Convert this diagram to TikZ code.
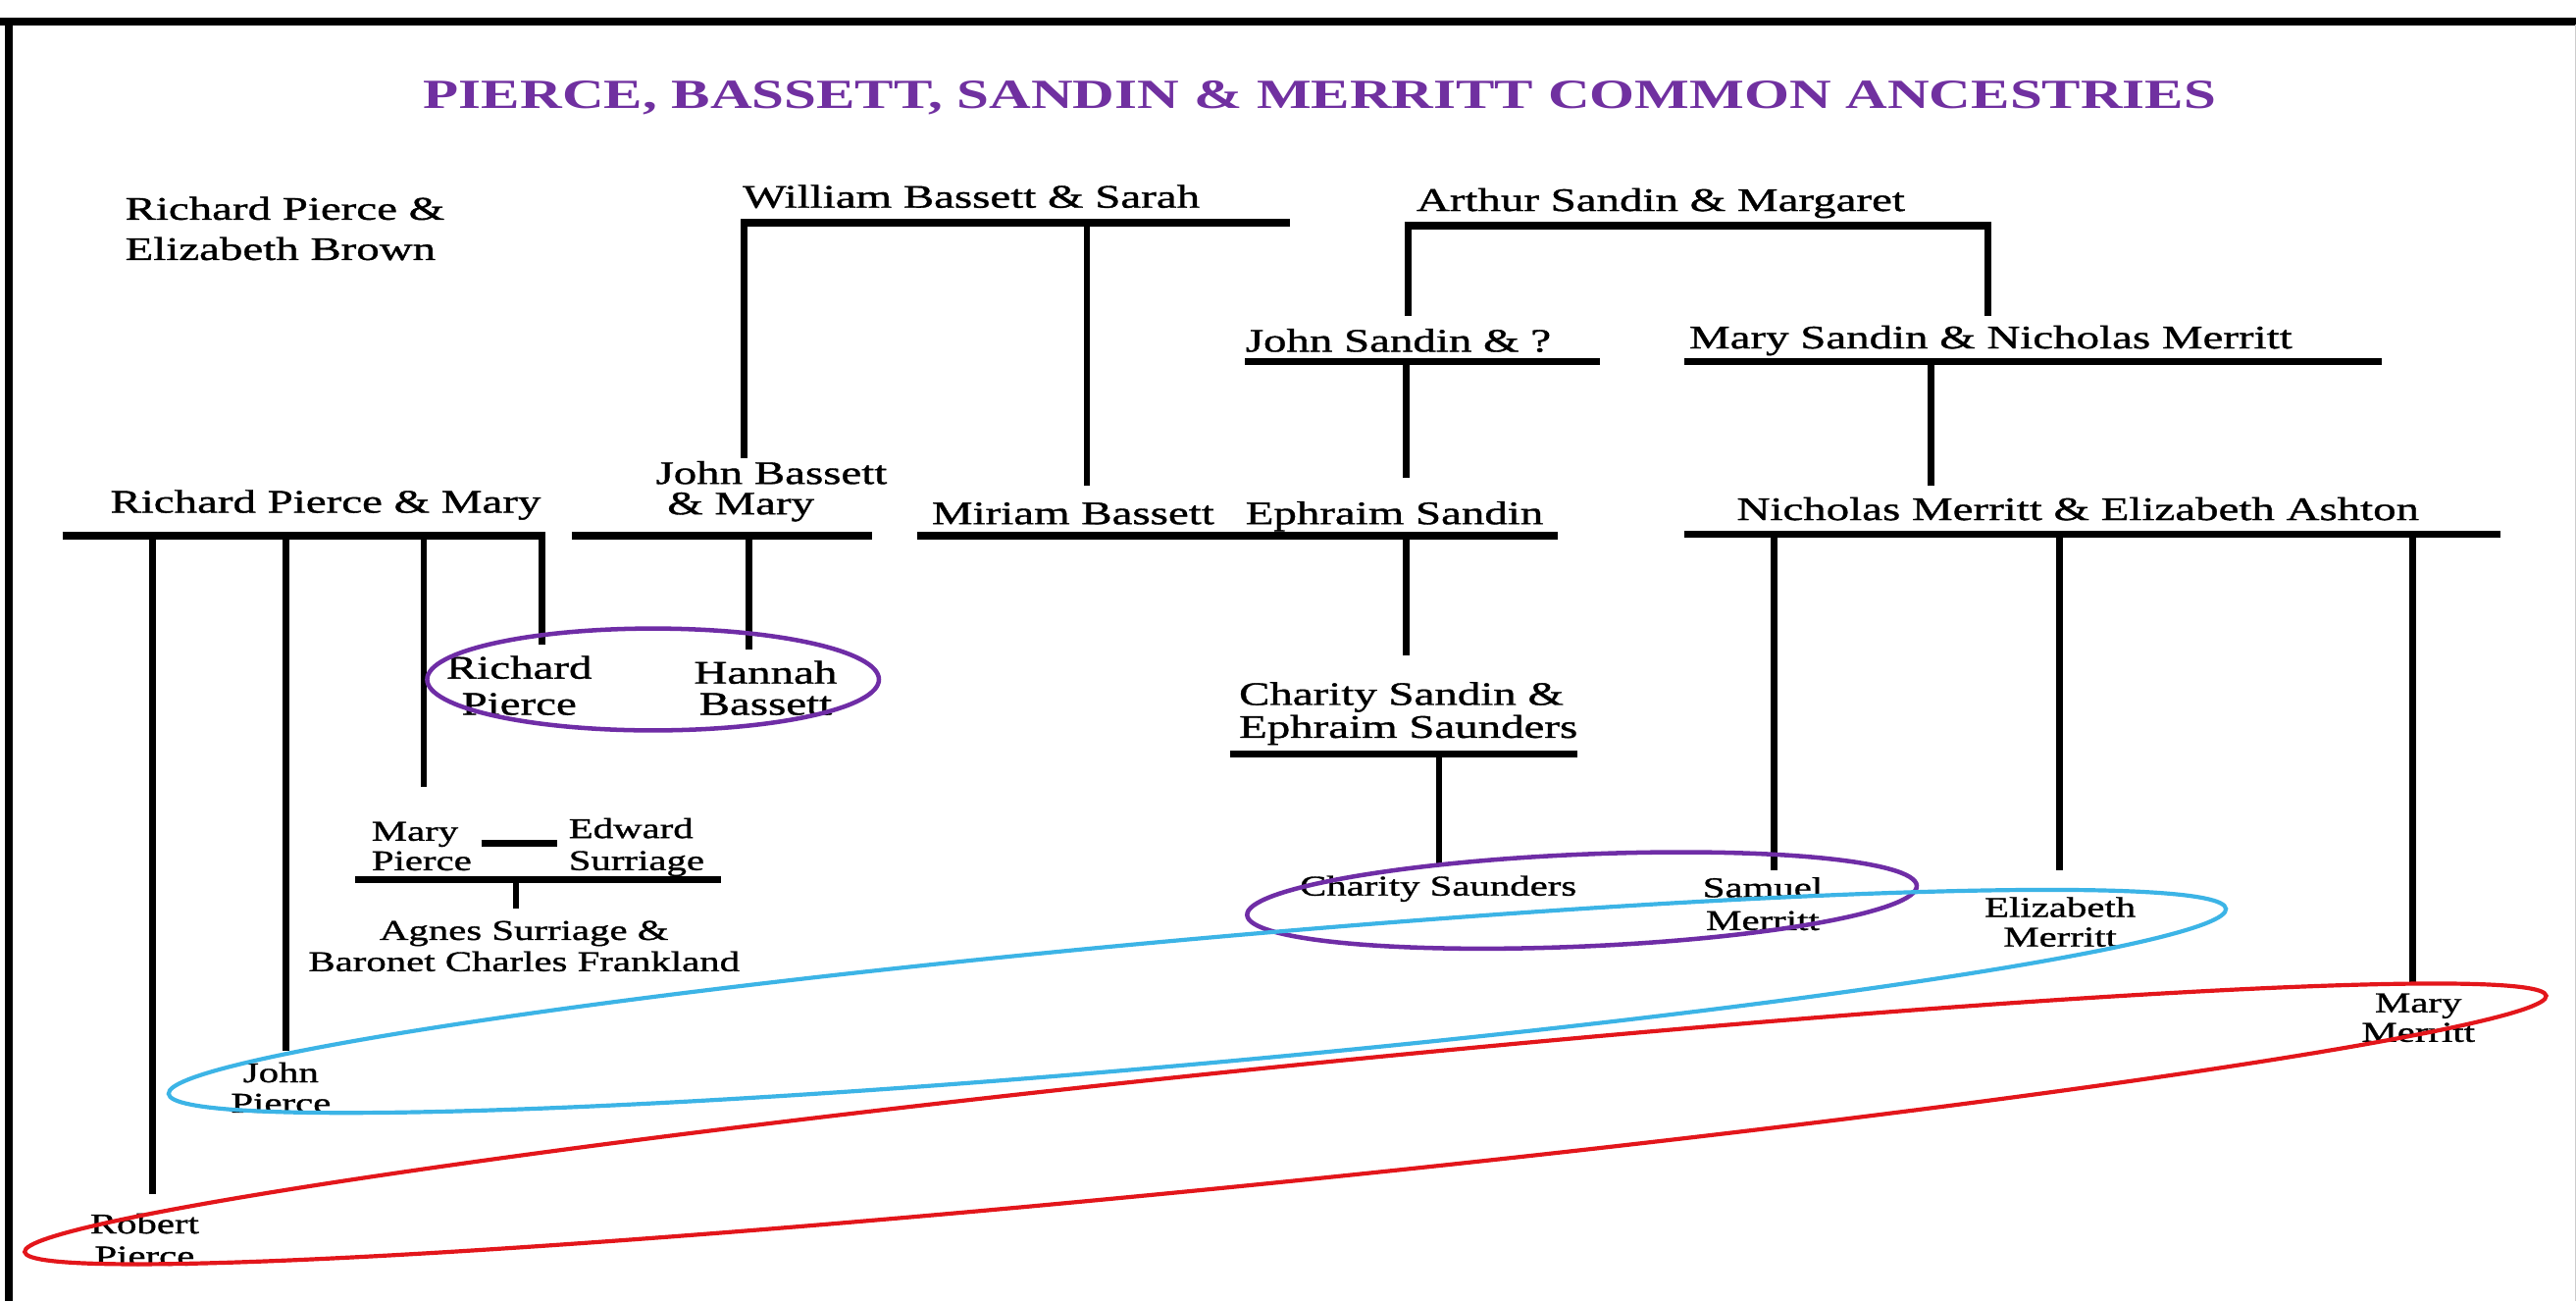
\documentclass[tikz,border=0pt]{standalone}
\usepackage{fontspec}
\setmainfont{Liberation Serif}
\newfontfamily\labfont[FakeStretch=1.4,FakeBold=1.1]{Liberation Serif}
\newfontfamily\ttlfont[FakeStretch=1.4]{Liberation Serif}
\definecolor{ttlpurple}{HTML}{7030A0}
\definecolor{ovpurple}{HTML}{6F2DA6}
\definecolor{ovcyan}{HTML}{3CB4E6}
\definecolor{ovred}{HTML}{E3161B}
\newcommand\twoc[3]{\vtop{\baselineskip=#3pt\lineskiplimit=-100pt\lineskip=0pt\halign{\hfil##\hfil\cr#1\cr#2\cr}}}
\newcommand\twol[3]{\vtop{\baselineskip=#3pt\lineskiplimit=-100pt\lineskip=0pt\halign{##\hfil\cr#1\cr#2\cr}}}
\begin{document}
\begin{tikzpicture}[x=1pt,y=-1pt,
 lab/.style={inner sep=0pt,font=\labfont\fontsize{20}{20}\selectfont},
 sml/.style={inner sep=0pt,font=\labfont\fontsize{17.4}{18}\selectfont},
 ttl/.style={inner sep=0pt,text=ttlpurple,font=\ttlfont\bfseries\fontsize{25.2}{26}\selectfont},
 bar/.style={line width=4.3pt},
 desc/.style={line width=4pt},
 ring/.style={line width=2.7pt},
 frame/.style={line width=4.6pt}]
\useasboundingbox (0,0) rectangle (1568,792);
\fill[white] (0,0) rectangle (1568,792);
% frame
\coordinate (fTL) at (0,13.2); \coordinate (fTR) at (1568,13.2);
\coordinate (fLT) at (5.5,11); \coordinate (fLB) at (5.5,792);
\coordinate (fRT) at (1567.6,15); \coordinate (fRB) at (1567.6,792);
\draw[frame] (fTL) -- (fTR);
\draw[frame] (fLT) -- (fLB);
\draw[gray!40,line width=0.7pt] (fRT) -- (fRB);
% title
\node[ttl,anchor=base] (title) at (803.5,66) {PIERCE, BASSETT, SANDIN \& MERRITT COMMON ANCESTRIES};
% labels
\node[lab,anchor=base west] (rpeb) at (76,133.7) {\twol{Richard Pierce \&}{Elizabeth Brown}{24.5}};
\node[lab,anchor=base west] (wbs) at (452,126.4) {William Bassett \& Sarah};
\node[lab,anchor=base west] (asm) at (862,128.4) {Arthur Sandin \& Margaret};
\node[lab,anchor=base west] (js) at (758,214) {John Sandin \& ?};
\node[lab,anchor=base west] (msnm) at (1028,212) {Mary Sandin \& Nicholas Merritt};
\node[lab,anchor=base west] (rpm) at (67,312) {Richard Pierce \& Mary};
\node[lab,anchor=base west] (jbm) at (399,294.5) {\twol{John Bassett}{\ \& Mary}{18.5}};
\node[lab,anchor=base west] (mb) at (567,319) {Miriam Bassett};
\node[lab,anchor=base west] (es) at (758,319) {Ephraim Sandin};
\node[lab,anchor=base west] (nmea) at (1057,316.5) {Nicholas Merritt \& Elizabeth Ashton};
\node[lab,anchor=base] (rp) at (316,413) {\twoc{Richard}{Pierce}{22}};
\node[lab,anchor=base] (hb) at (466,416) {\twoc{Hannah}{Bassett}{19}};
\node[lab,anchor=base west] (csen) at (754,429) {\twol{Charity Sandin \&}{Ephraim Saunders}{20}};
\node[sml,anchor=base west] (mp) at (226,511.6) {\twol{Mary}{Pierce}{18}};
\node[sml,anchor=base west] (esu) at (346,510) {\twol{Edward}{Surriage}{19.5}};
\node[sml,anchor=base] (ascf) at (319,572) {\twoc{Agnes Surriage \&}{Baronet Charles Frankland}{19}};
\node[sml,anchor=base west] (cs) at (791,545) {Charity Saunders};
\node[sml,anchor=base] (sm) at (1073,546) {\twoc{Samuel}{Merritt}{20}};
\node[sml,anchor=base] (elm) at (1254,558) {\twoc{Elizabeth}{Merritt}{18}};
\node[sml,anchor=base] (mm) at (1472,616) {\twoc{Mary}{Merritt}{18}};
\node[sml,anchor=base] (jp) at (171,658.6) {\twoc{John}{Pierce}{18.5}};
\node[sml,anchor=base] (rbp) at (88,750.6) {\twoc{Robert}{Pierce}{19.5}};
% marriage bars
\coordinate (wbL) at (451,135.5); \coordinate (wbR) at (785,135.5);
\coordinate (asL) at (855,137.3); \coordinate (asR) at (1212,137.3);
\coordinate (jsL) at (758,220); \coordinate (jsR) at (974,220);
\coordinate (msL) at (1025,220); \coordinate (msR) at (1450,220);
\coordinate (rpL) at (38,326); \coordinate (rpR) at (332,326);
\coordinate (jbL) at (348,326); \coordinate (jbR) at (531,326);
\coordinate (meL) at (558,326); \coordinate (meR) at (948,326);
\coordinate (neL) at (1025,325); \coordinate (neR) at (1522,325);
\coordinate (ceL) at (749,458.7); \coordinate (ceR) at (960,458.7);
\coordinate (mpL) at (293,513); \coordinate (mpR) at (339,513);
\coordinate (mpbL) at (216,535.5); \coordinate (mpbR) at (439,535.5);
\foreach \a/\b in {wbL/wbR,asL/asR,jsL/jsR,msL/msR,rpL/rpR,jbL/jbR,meL/meR,neL/neR,ceL/ceR,mpL/mpR,mpbL/mpbR}
  \draw[bar] (\a) -- (\b);
% descent lines
\coordinate (d1a) at (453,135.5);   \coordinate (d1b) at (453,279);
\coordinate (d2a) at (661.5,135.5); \coordinate (d2b) at (661.5,295.6);
\coordinate (d3a) at (857,137.3);   \coordinate (d3b) at (857,192);
\coordinate (d4a) at (1210,137.3);  \coordinate (d4b) at (1210,192);
\coordinate (d5a) at (856,220);     \coordinate (d5b) at (856,290.6);
\coordinate (d6a) at (1175.5,220);  \coordinate (d6b) at (1175.5,295.5);
\coordinate (d7a) at (93,326);      \coordinate (d7b) at (93,726.5);
\coordinate (d8a) at (174,326);     \coordinate (d8b) at (174,639.5);
\coordinate (d9a) at (258,326);     \coordinate (d9b) at (258,479);
\coordinate (d10a) at (330,326);    \coordinate (d10b) at (330,392);
\coordinate (d11a) at (456,326);    \coordinate (d11b) at (456,395);
\coordinate (d12a) at (856,326);    \coordinate (d12b) at (856,399);
\coordinate (d13a) at (876,458.7);  \coordinate (d13b) at (876,527);
\coordinate (d14a) at (1080,325);   \coordinate (d14b) at (1080,529.5);
\coordinate (d15a) at (1253.5,325); \coordinate (d15b) at (1253.5,529.5);
\coordinate (d16a) at (1468.5,325); \coordinate (d16b) at (1468.5,599);
\coordinate (d17a) at (314,535.5);  \coordinate (d17b) at (314,553);
\foreach \i in {1,...,17}
  \draw[desc] (d\i a) -- (d\i b);
% rings
\coordinate (r1) at (397.5,413.5);
\coordinate (r2) at (963,548);
\coordinate (r3) at (728.8,609.4);
\coordinate (r4) at (782.5,684);
\draw[ring,ovpurple] (r1) ellipse [x radius=137.5pt,y radius=31pt];
\draw[ring,ovpurple,rotate around={2.5:(r2)}] (r2) ellipse [x radius=204pt,y radius=28pt];
\draw[ring,ovcyan,line width=2.5pt,rotate around={5.14:(r3)}] (r3) ellipse [x radius=628.7pt,y radius=38pt];
\draw[ring,ovred,line width=2.5pt,rotate around={5.8:(r4)}] (r4) ellipse [x radius=771.4pt,y radius=35pt];
\end{tikzpicture}
\end{document}
